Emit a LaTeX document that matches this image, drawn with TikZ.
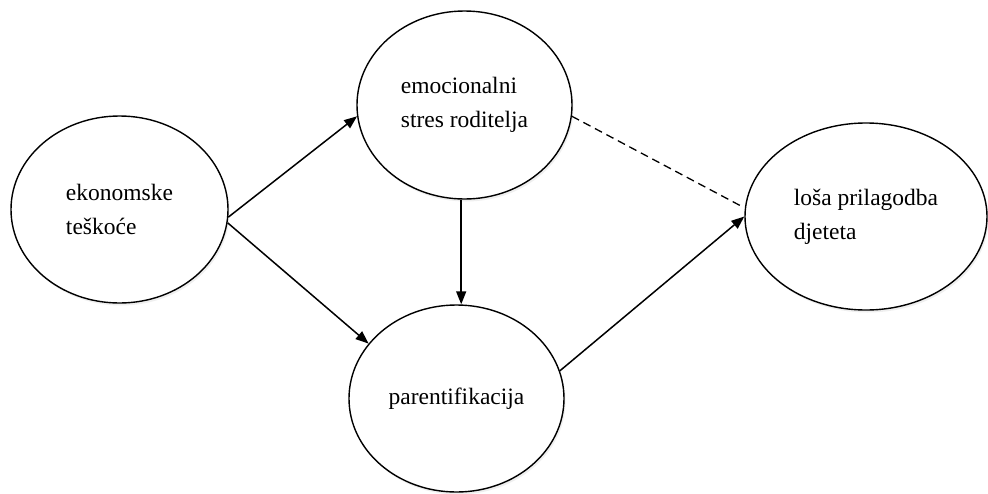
\documentclass[tikz,border=0pt]{standalone}
\usepackage{fontspec}
\setmainfont{Liberation Serif}
\usetikzlibrary{shapes.geometric,arrows.meta,shadows,calc}
\begin{document}
\begin{tikzpicture}[x=1pt,y=-1pt,
  bubble/.style={ellipse,draw,line width=1.4pt,fill=white,inner sep=0pt,
    align=left,font=\fontsize{23.5}{34}\selectfont,
    drop shadow={opacity=0.12,shadow xshift=1.5pt,shadow yshift=-2.5pt}},
  arr/.style={line width=1.5pt,-{Triangle[length=13pt,width=10pt]}},
  dsh/.style={line width=1.3pt,dash pattern=on 8pt off 5pt}]
\useasboundingbox[fill=white] (0,0) rectangle (988,493);
\node[bubble,minimum width=217pt,minimum height=187pt] (l) at (119.5,209.5) {ekonomske\\teškoće};
\node[bubble,minimum width=215pt,minimum height=188pt] (t) at (464.5,105) {emocionalni\\stres roditelja};
\node[bubble,minimum width=215pt,minimum height=187pt] (b) at (456.5,398.5) {parentifikacija};
\node[bubble,minimum width=242pt,minimum height=187pt] (r) at (866,216.5) {loša prilagodba\\djeteta};
\draw[arr] (l.-4) -- (t.186);
\draw[arr] (l.-7) -- (b.148);
\draw[arr] (t.268) -- (t.268 |- b.north);
\draw[arr] (b.15) -- (r.180);
\draw[dsh,shorten >=4pt] (t.-6) -- (r.176);
\end{tikzpicture}
\end{document}
